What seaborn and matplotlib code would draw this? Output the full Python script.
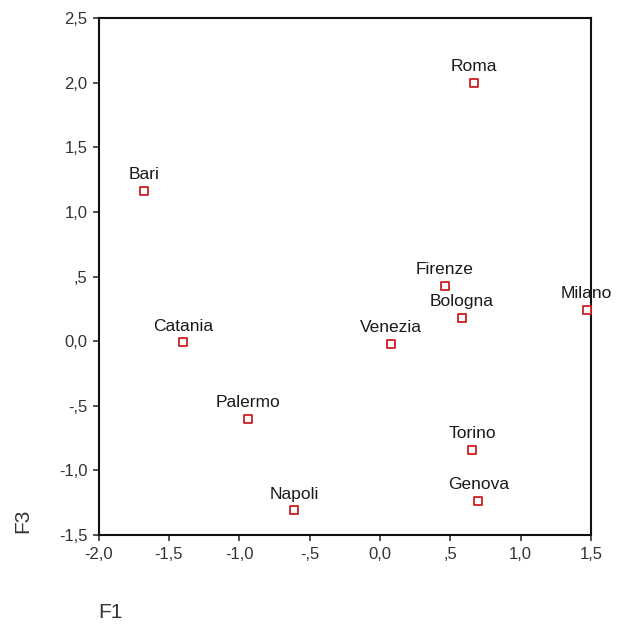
import matplotlib
matplotlib.use("Agg")
import matplotlib.pyplot as plt
import seaborn as sns
import pandas as pd
from matplotlib.ticker import FixedLocator, FuncFormatter

cities = ["Roma", "Bari", "Firenze", "Bologna", "Milano", "Catania",
          "Venezia", "Palermo", "Torino", "Genova", "Napoli"]
f1 = [0.67, -1.674, 0.46, 0.58, 1.47, -1.40, 0.078, -0.94, 0.657, 0.70, -0.61]
f3 = [2.00, 1.163, 0.43, 0.18, 0.24, -0.01, -0.02, -0.60, -0.84, -1.235, -1.31]

x_ticks = [-2.0, -1.5, -1.0, -0.5, 0.0, 0.5, 1.0, 1.5]
y_ticks = [-1.5, -1.0, -0.5, 0.0, 0.5, 1.0, 1.5, 2.0, 2.5]

df = pd.DataFrame({"F1": f1, "F3": f3, "city": cities})

sns.set_style("ticks")
plt.rcParams["font.family"] = ["Liberation Sans", "DejaVu Sans"]

fig = plt.figure(figsize=(6.18, 6.30), dpi=100)
ax = fig.add_axes([0.1594, 0.1508, 0.7969, 0.8206])

sns.scatterplot(data=df, x="F1", y="F3", ax=ax, marker="s", s=30,
                facecolor="white", edgecolor="#cc1f1f", linewidth=1.3,
                zorder=3, clip_on=False)

for name, xv, yv in zip(cities, f1, f3):
    ax.annotate(name, (xv, yv), xytext=(0, 8.5), textcoords="offset points",
                ha="center", va="baseline", fontsize=12.5, color="#1a1a1a",
                annotation_clip=False)


def spss_fmt(v, pos=None):
    s = f"{abs(v):.1f}".replace(".", ",")
    if s.startswith("0,") and abs(v) > 0:
        s = s[1:]
    return ("-" if v < 0 else "") + s


ax.set_xlim(-2.0, 1.5)
ax.set_ylim(-1.5, 2.5)
ax.xaxis.set_major_locator(FixedLocator(x_ticks))
ax.yaxis.set_major_locator(FixedLocator(y_ticks))
ax.xaxis.set_major_formatter(FuncFormatter(spss_fmt))
ax.yaxis.set_major_formatter(FuncFormatter(spss_fmt))
ax.tick_params(direction="out", length=4, width=1.2, labelsize=12,
               colors="#333333", pad=3)
ax.tick_params(axis="x", pad=5)
ax.tick_params(axis="y", pad=4)

for sp in ax.spines.values():
    sp.set_visible(True)
    sp.set_linewidth(1.5)
    sp.set_color("#111111")

ax.set_xlabel("")
ax.set_ylabel("")
fig.text(110 / 618, 1 - 612 / 630, "F1", ha="center", va="center",
         fontsize=15, color="#333333")
fig.text(23 / 618, 1 - 521 / 630, "F3", ha="center", va="center",
         fontsize=15, color="#333333", rotation=90)

fig.savefig("out.png", dpi=100)
